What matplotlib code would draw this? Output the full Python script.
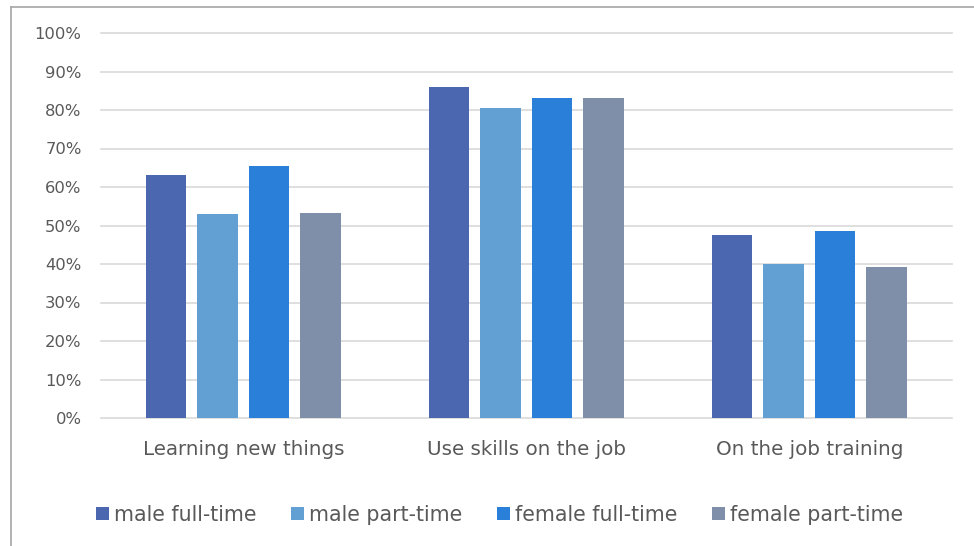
import numpy as np
import matplotlib
matplotlib.use('Agg')
import matplotlib.pyplot as plt
from matplotlib.lines import Line2D
import matplotlib.ticker as mtick

plt.rcParams['font.family'] = ['DejaVu Sans']

categories = ['Learning new things', 'Use skills on the job', 'On the job training']
series_names = ['male full-time', 'male part-time', 'female full-time', 'female part-time']
male_full = [0.63, 0.86, 0.475]
male_part = [0.53, 0.805, 0.40]
female_full = [0.655, 0.83, 0.485]
female_part = [0.533, 0.83, 0.393]
colors = ['#4A67AF', '#629FD2', '#2A7FD8', '#7F8FA9']
text_col = '#595959'

fig = plt.figure(figsize=(9.74, 5.46), dpi=100)
ax = fig.add_axes([101/974, 1-418/546, (951.7-101)/974, (418-33)/546])

x = np.arange(len(categories))
pitch = 0.182
width = 0.143
all_series = [male_full, male_part, female_full, female_part]
for i, (vals, name, c) in enumerate(zip(all_series, series_names, colors)):
    ax.bar(x + (i - 1.5)*pitch, vals, width, color=c, label=name, zorder=3)

ax.set_ylim(0, 1)
ax.set_xlim(-0.503, 2.503)
ax.set_yticks(np.arange(0, 1.01, 0.1))
ax.yaxis.set_major_formatter(mtick.PercentFormatter(1.0, decimals=0))
ax.set_xticks(x)
ax.set_xticklabels(categories)
ax.grid(axis='y', color='#D9D9D9', lw=1.2, zorder=0)
for gl in ax.get_ygridlines():
    gl.set_clip_on(False)
for s in ax.spines.values():
    s.set_visible(False)
ax.tick_params(axis='both', length=0, colors=text_col)
ax.tick_params(axis='y', labelsize=11.8, pad=14)
ax.tick_params(axis='x', labelsize=14.3, pad=15.5)

fig.legend(loc='center', bbox_to_anchor=(0.513, 1-515/546), ncol=4, frameon=False,
           fontsize=14.8, handlelength=0.62, handleheight=0.62, handletextpad=0.25,
           columnspacing=1.7, labelcolor=text_col)

# chart border
fig.add_artist(Line2D([11/974, 11/974], [0, 1-7/546], color='#A6A6A6', lw=1.2))
fig.add_artist(Line2D([11/974, 1], [1-7/546, 1-7/546], color='#A6A6A6', lw=1.2))

fig.savefig('out.png', dpi=100)
